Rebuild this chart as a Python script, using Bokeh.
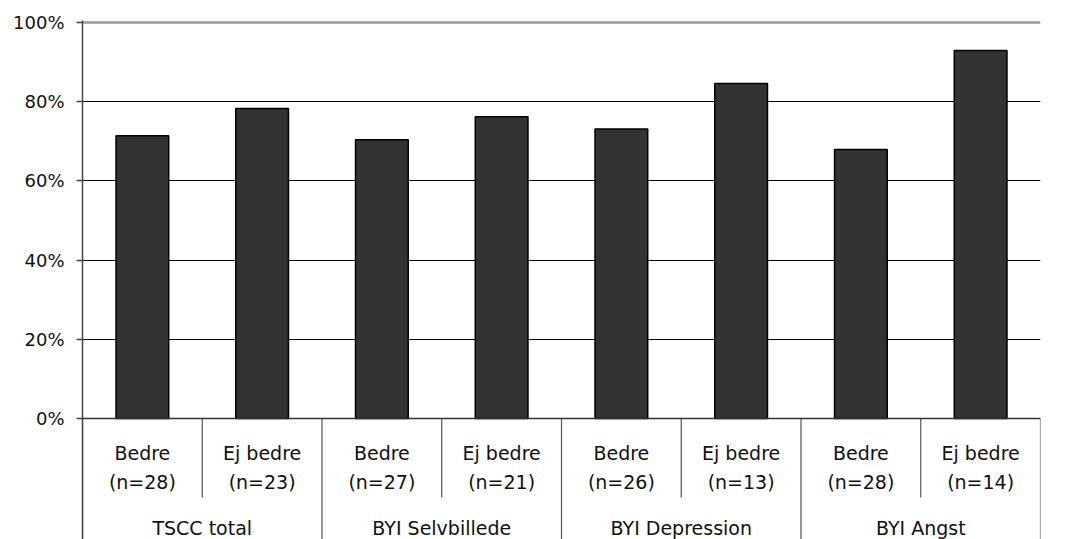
from bokeh.plotting import figure
from bokeh.models import ColumnDataSource, FixedTicker, NumeralTickFormatter, Span, Range1d
from bokeh.core.properties import value
from bokeh.embed import file_html
from bokeh.resources import INLINE

groups = ["TSCC total", "BYI Selvbillede", "BYI Depression", "BYI Angst"]
subgroups = ["Bedre", "Ej bedre", "Bedre", "Ej bedre", "Bedre", "Ej bedre", "Bedre", "Ej bedre"]
ns = [28, 23, 27, 21, 26, 13, 28, 14]
values = [0.714, 0.783, 0.704, 0.762, 0.731, 0.846, 0.679, 0.929]
y_ticks = [0, 0.2, 0.4, 0.6, 0.8, 1.0]

FONT = "DejaVu Sans"

xs = [i + 0.5 for i in range(len(values))]
bars = ColumnDataSource(dict(x=xs, top=values))

p = figure(width=1070, height=539, output_backend="svg", toolbar_location=None,
           x_range=Range1d(0, 8), y_range=Range1d(-0.3056, 1.00505),
           min_border_left=82, min_border_right=30, min_border_top=20, min_border_bottom=0)
p.outline_line_color = None
p.xaxis.visible = False
p.xgrid.visible = False
p.background_fill_color = "white"

p.yaxis.ticker = FixedTicker(ticks=y_ticks)
p.yaxis.formatter = NumeralTickFormatter(format="0%")
p.yaxis.minor_tick_line_color = None
p.yaxis.major_tick_out = 6
p.yaxis.major_tick_in = 0
p.yaxis.major_tick_line_color = "#444444"
p.yaxis.major_tick_line_width = 1.5
p.yaxis.axis_line_color = "#444444"
p.yaxis.axis_line_width = 1.5
p.yaxis.major_label_standoff = 12
p.yaxis.major_label_text_font = FONT
p.yaxis.major_label_text_font_size = "18px"
p.yaxis.major_label_text_color = "#111111"

p.ygrid.ticker = FixedTicker(ticks=[0.2, 0.4, 0.6, 0.8])
p.ygrid.grid_line_color = "black"
p.ygrid.grid_line_width = 1

p.add_layout(Span(location=1.0, dimension="width", line_color="#999999", line_width=2.5, level="underlay"))

p.vbar(x="x", top="top", bottom=0, width=0.44, source=bars,
       fill_color="#333333", line_color="black", line_width=1.5)

p.add_layout(Span(location=0, dimension="width", line_color="#333333", line_width=1.5))

# separators
inner_x = [1, 3, 5, 7]
p.segment(x0=inner_x, y0=[0] * 4, x1=inner_x, y1=[-0.1995] * 4, line_color="#555555", line_width=1.2)
outer_x = [0, 2, 4, 6, 8]
p.segment(x0=outer_x, y0=[0] * 5, x1=outer_x, y1=[-0.4] * 5, line_color="#555555", line_width=1.2)

lab1 = ColumnDataSource(dict(x=xs, y=[-0.0859] * 8, t=subgroups))
lab2 = ColumnDataSource(dict(x=xs, y=[-0.1616] * 8, t=["(n=%d)" % n for n in ns]))
gx = [1, 3, 5, 7]
lab3 = ColumnDataSource(dict(x=gx, y=[-0.276] * 4, t=groups))
for src in (lab1, lab2, lab3):
    p.text(x="x", y="y", text="t", source=src, text_align="center", text_baseline="middle",
           text_font=value(FONT), text_font_size="19px", text_color="#111111")

open("out.html", "w").write(file_html(p, INLINE))
